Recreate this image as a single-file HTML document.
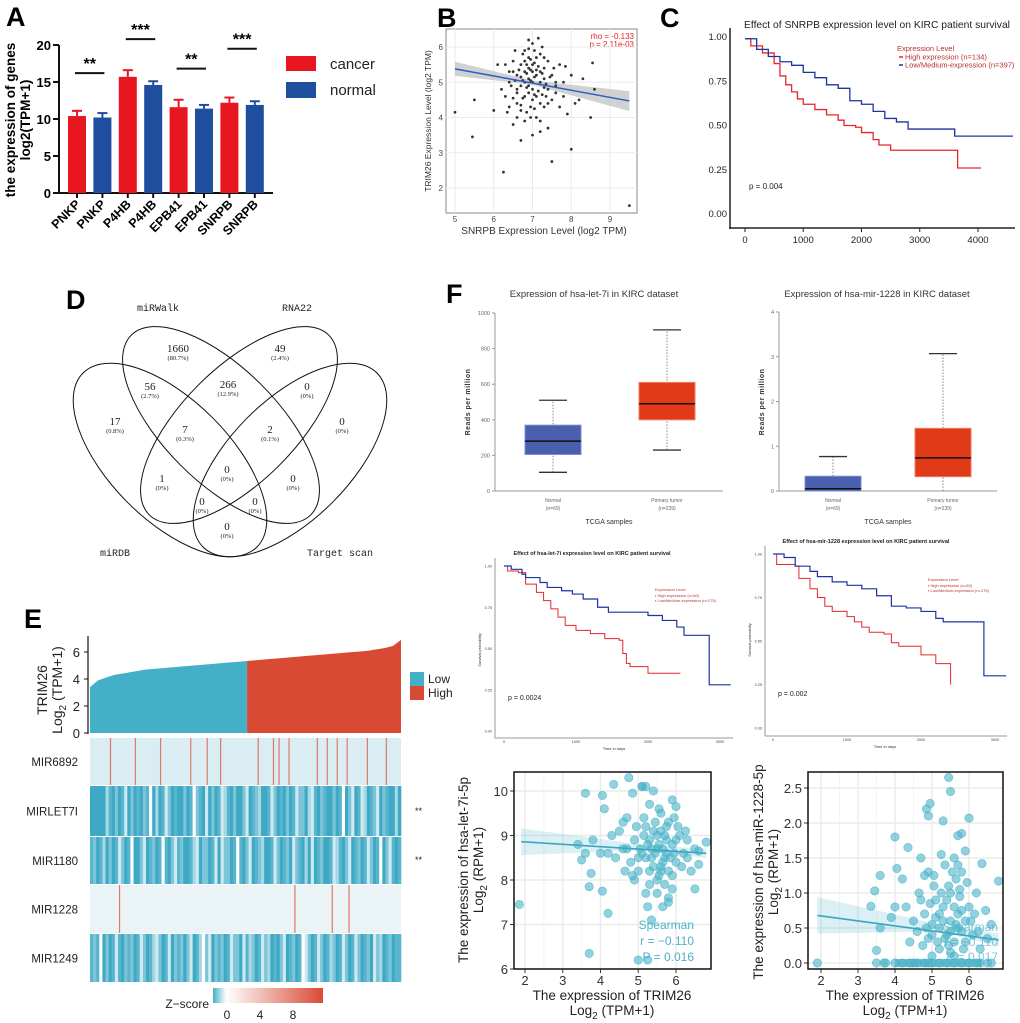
<!DOCTYPE html>
<html><head><meta charset="utf-8">
<style>
html,body{margin:0;padding:0;background:#fff;}
svg{display:block;font-family:"Liberation Sans",sans-serif;}
.pl{font-weight:bold;font-size:27px;}
.serif{font-family:"Liberation Mono","DejaVu Sans Mono",monospace;}
</style></head>
<body>
<svg id="fig" width="1020" height="1023" viewBox="0 0 1020 1023" xmlns="http://www.w3.org/2000/svg">
<rect x="0" y="0" width="1020" height="1023" fill="#fff"/>
<text class="pl" x="6" y="26">A</text>
<text class="pl" x="437" y="27">B</text>
<text class="pl" x="660" y="27">C</text>
<text class="pl" x="66" y="309">D</text>
<text class="pl" x="24" y="628">E</text>
<text class="pl" x="446" y="303">F</text>

<g id="pa">
<text transform="translate(15,120) rotate(-90)" text-anchor="middle" font-size="13.5" font-weight="bold">the expression of genes</text>
<text transform="translate(30,120) rotate(-90)" text-anchor="middle" font-size="13.5" font-weight="bold">log2(TPM+1)</text>
<rect x="286" y="56" width="30" height="15" fill="#e8161e"/>
<rect x="286" y="82" width="30" height="16" fill="#1f4e9f"/>
<text x="330" y="69" font-size="15" fill="#222">cancer</text>
<text x="330" y="95" font-size="15" fill="#222">normal</text>
</g>

<g id="pb">
<rect x="446" y="29" width="191" height="184" fill="#fff" stroke="#888" stroke-width="1"/>
<text transform="translate(431,121) rotate(-90)" text-anchor="middle" font-size="8.5" fill="#333">TRIM26 Expression Level (log2 TPM)</text>
<text x="544" y="234" text-anchor="middle" font-size="10" fill="#333">SNRPB Expression Level (log2 TPM)</text>
<text x="634" y="39" text-anchor="end" font-size="8" fill="#e52020">rho = -0.133</text>
<text x="634" y="47" text-anchor="end" font-size="8" fill="#e52020">p = 2.11e-03</text>
</g>

<g id="pc">
<text x="877" y="28" text-anchor="middle" font-size="10.3" fill="#222">Effect of SNRPB expression level on KIRC patient survival</text>
<line x1="730" y1="28" x2="730" y2="229" stroke="#222" stroke-width="1.5"/>
<line x1="729" y1="228" x2="1015" y2="228" stroke="#222" stroke-width="1.5"/>
<text x="897" y="51" font-size="7.5" fill="#b83030">Expression Level</text>
<line x1="899" y1="57" x2="903" y2="57" stroke="#e8262a" stroke-width="1.5"/>
<text x="905" y="59.5" font-size="7.5" fill="#b83030">High expression (n=134)</text>
<line x1="899" y1="65" x2="903" y2="65" stroke="#1c34a0" stroke-width="1.5"/>
<text x="905" y="67.5" font-size="7.5" fill="#b83030">Low/Medium-expression (n=397)</text>
<text x="749" y="189" font-size="8" fill="#222">p = 0.004</text>
</g>

<g id="pd" fill="none" stroke="#111" stroke-width="1">
<ellipse cx="170" cy="460" rx="123" ry="60" transform="rotate(45 170 460)"/>
<ellipse cx="290" cy="460" rx="123" ry="60" transform="rotate(-45 290 460)"/>
<ellipse cx="221" cy="425" rx="127" ry="57" transform="rotate(45 221 425)"/>
<ellipse cx="239" cy="425" rx="127" ry="57" transform="rotate(-45 239 425)"/>
</g>
<g class="serif" font-size="10" fill="#222" text-anchor="middle">
<text x="158" y="311">miRWalk</text>
<text x="297" y="311">RNA22</text>
<text x="115" y="556">miRDB</text>
<text x="340" y="556">Target scan</text>
</g>
<g id="vennnums" font-family="Liberation Serif,serif" fill="#222" text-anchor="middle"></g>

<g id="pe">
<text transform="translate(47,690) rotate(-90)" text-anchor="middle" font-size="14" fill="#222">TRIM26</text>
<text transform="translate(62,690) rotate(-90)" text-anchor="middle" font-size="14" fill="#222">Log<tspan font-size="10" dy="4">2</tspan><tspan dy="-4"> (TPM+1)</tspan></text>
<line x1="88" y1="636" x2="88" y2="734" stroke="#111" stroke-width="1.2"/>
<rect x="410" y="672" width="14" height="14" fill="#44b0c8"/>
<rect x="410" y="686" width="14" height="14" fill="#d94a35"/>
<text x="428" y="683" font-size="12" fill="#222">Low</text>
<text x="428" y="697" font-size="12" fill="#222">High</text>
<text x="415" y="814" font-size="9" fill="#222">**</text>
<text x="415" y="863" font-size="9" fill="#222">**</text>
<defs><linearGradient id="zg" x1="0" x2="1" y1="0" y2="0"><stop offset="0" stop-color="#44b0c8"/><stop offset="0.12" stop-color="#ffffff"/><stop offset="1" stop-color="#d94a35"/></linearGradient></defs>
<rect x="213" y="988" width="110" height="15" fill="url(#zg)"/>
<text x="209" y="1008" text-anchor="end" font-size="12" fill="#222">Z−score</text>
<text x="227" y="1019" text-anchor="middle" font-size="12" fill="#222">0</text>
<text x="260" y="1019" text-anchor="middle" font-size="12" fill="#222">4</text>
<text x="293" y="1019" text-anchor="middle" font-size="12" fill="#222">8</text>
</g>

<g fill="#333">
<text x="594" y="297" text-anchor="middle" font-size="9.5">Expression of hsa-let-7i in KIRC dataset</text>
<text x="877" y="297" text-anchor="middle" font-size="9.5">Expression of hsa-mir-1228 in KIRC dataset</text>
<text transform="translate(470,402) rotate(-90)" text-anchor="middle" font-size="7" font-weight="bold" letter-spacing="0.5">Reads per million</text>
<text transform="translate(764,402) rotate(-90)" text-anchor="middle" font-size="7" font-weight="bold" letter-spacing="0.5">Reads per million</text>
<text x="609" y="524" text-anchor="middle" font-size="7">TCGA samples</text>
<text x="888" y="524" text-anchor="middle" font-size="7">TCGA samples</text>
<text x="592" y="555" text-anchor="middle" font-size="5.5" font-weight="bold" fill="#222">Effect of hsa-let-7i expression level on KIRC patient survival</text>
<text x="866" y="543" text-anchor="middle" font-size="5.5" font-weight="bold" fill="#222">Effect of hsa-mir-1228 expression level on KIRC patient survival</text>
<text x="508" y="700" font-size="7" fill="#222">p = 0.0024</text>
<text x="778" y="696" font-size="7" fill="#222">p = 0.002</text>
<text x="655" y="591" font-size="4" fill="#b83030">Expression Level</text>
<text x="655" y="597" font-size="4" fill="#b83030">▪ High expression (n=60)</text>
<text x="655" y="602" font-size="4" fill="#b83030">▪ Low/Medium-expression (n=175)</text>
<text x="928" y="581" font-size="4" fill="#b83030">Expression Level</text>
<text x="928" y="587" font-size="4" fill="#b83030">▪ High expression (n=60)</text>
<text x="928" y="592" font-size="4" fill="#b83030">▪ Low/Medium-expression (n=175)</text>
<text transform="translate(481,650) rotate(-90)" text-anchor="middle" font-size="4">Survival probability</text>
<text transform="translate(751,640) rotate(-90)" text-anchor="middle" font-size="4">Survival probability</text>
<text x="614" y="750" text-anchor="middle" font-size="4">Time in days</text>
<text x="885" y="748" text-anchor="middle" font-size="4">Time in days</text>
</g>

<g fill="#222">
<text transform="translate(468,870) rotate(-90)" text-anchor="middle" font-size="13.5">The expression of hsa-let-7i-5p</text>
<text transform="translate(483,870) rotate(-90)" text-anchor="middle" font-size="13.5">Log<tspan font-size="10" dy="4">2</tspan><tspan dy="-4"> (RPM+1)</tspan></text>
<text x="612" y="1000" text-anchor="middle" font-size="13.5">The expression of TRIM26</text>
<text x="612" y="1015" text-anchor="middle" font-size="13.5">Log<tspan font-size="10" dy="4">2</tspan><tspan dy="-4"> (TPM+1)</tspan></text>
<text transform="translate(763,872) rotate(-90)" text-anchor="middle" font-size="13.5">The expression of hsa-miR-1228-5p</text>
<text transform="translate(778,872) rotate(-90)" text-anchor="middle" font-size="13.5">Log<tspan font-size="10" dy="4">2</tspan><tspan dy="-4"> (RPM+1)</tspan></text>
<text x="905" y="1000" text-anchor="middle" font-size="13.5">The expression of TRIM26</text>
<text x="905" y="1015" text-anchor="middle" font-size="13.5">Log<tspan font-size="10" dy="4">2</tspan><tspan dy="-4"> (TPM+1)</tspan></text>
</g>
<g id="layer"></g>
<g fill="#4ab3c8" font-size="12" text-anchor="end">
<text x="694" y="929">Spearman</text>
<text x="694" y="945">r = −0.110</text>
<text x="694" y="961">P = 0.016</text>
</g>
<g fill="#4ab3c8" font-size="12" text-anchor="end" opacity="0.7">
<text x="998" y="931">Spearman</text>
<text x="998" y="946">r = −0.110</text>
<text x="998" y="961">P = 0.017</text>
</g>
</svg>

<script>
// ---------- DATA ----------
const aCats = ["PNKP","PNKP","P4HB","P4HB","EPB41","EPB41","SNRPB","SNRPB"];
const aValues = [10.4,10.2,15.7,14.6,11.6,11.4,12.2,11.9];
const aErrors = [0.7,0.6,0.9,0.5,1.0,0.5,0.7,0.5];
const aSig = ["**","***","**","***"];
const aSigY = [16.2,20.8,16.8,19.5];
const aTicks = [0,5,10,15,20];

const bX = [6.8,7.0,6.9,7.2,6.7,7.1,6.6,7.3,6.9,7.0,6.5,7.4,6.8,7.2,6.6,7.5,6.4,7.6,7.0,6.9,7.3,6.7,6.3,7.7,7.1,6.5,7.8,6.2,8.0,6.6,7.4,6.4,7.0,8.1,6.1,7.9,6.8,7.2,7.5,6.3,8.2,6.0,5.5,5.0,5.45,6.25,6.7,7.5,8.0,9.5,8.5,8.6,8.55,8.3,7.85,7.6,6.9,7.0,6.8,7.1,6.7,7.2,6.9,7.0,7.3,6.6,7.4,6.5,6.9,7.1,6.8,7.2,6.75,7.05,6.95,7.35,6.45,7.55,7.25,6.55,
6.85,6.95,7.05,7.15,6.75,7.25,6.65,7.35,6.85,7.05,6.95,7.15,6.55,7.45,6.75,7.25,6.9,7.1,6.8,7.0,6.6,7.4,6.7,7.3,6.85,7.2,6.4,7.6,6.95,7.05,6.5,7.7,6.35,7.8,7.15,6.95,7.05,6.7,7.3,6.85];
const bY = [5.3,5.5,5.1,5.0,4.9,5.7,5.2,5.4,4.7,4.5,5.6,4.8,5.9,5.8,4.4,5.2,5.0,4.9,6.1,6.2,4.3,4.2,5.5,5.5,4.0,3.8,4.6,4.8,5.2,4.0,3.7,4.3,3.5,4.4,5.5,4.1,3.9,3.6,4.5,4.6,4.5,4.2,4.5,4.15,3.45,2.45,3.35,2.75,3.1,1.5,4.0,4.8,5.55,5.1,5.45,5.0,5.4,5.0,5.0,5.2,5.5,5.3,4.9,4.8,5.1,4.7,5.6,5.3,5.7,4.6,4.6,4.4,5.8,5.9,4.3,4.6,4.9,5.4,6.0,5.9,
5.25,5.35,5.15,5.45,5.05,5.25,5.35,4.95,4.85,5.55,5.65,4.75,5.05,5.15,4.55,4.65,5.95,5.35,5.6,5.3,4.8,4.4,4.35,5.7,4.15,3.9,5.3,4.7,4.0,4.25,4.55,4.3,4.15,5.0,6.25,5.05,4.65,5.15,4.85,5.5];
const bFit = [[5,5.38],[9.5,4.47]];
const bXTicks = [5,6,7,8,9];
const bYTicks = [2,3,4,5,6];

const cTime = {
  high:[0,100,300,500,600,700,800,900,1000,1200,1400,1600,1700,1900,2000,2200,2300,2500,3650,4050],
  low:[0,200,400,600,800,1000,1200,1400,1600,1800,2000,2200,2400,2600,2800,3600,4600]
};
const cSurvHigh = [0.99,0.95,0.91,0.85,0.78,0.73,0.69,0.65,0.62,0.59,0.56,0.53,0.50,0.49,0.46,0.42,0.39,0.36,0.26,0.26];
const cSurvLow = [0.99,0.93,0.89,0.86,0.84,0.80,0.77,0.73,0.71,0.64,0.62,0.58,0.54,0.52,0.48,0.44,0.44];
const cXTicks = [0,1000,2000,3000,4000];
const cYTicks = [0,0.25,0.5,0.75,1.0];

const vennCounts = ["1660","49","56","266","0","17","7","2","0","1","0","0","0","0","0"];
const vennPct = ["(80.7%)","(2.4%)","(2.7%)","(12.9%)","(0%)","(0.8%)","(0.3%)","(0.1%)","(0%)","(0%)","(0%)","(0%)","(0%)","(0%)","(0%)"];

const eCurve = [3.4,3.9,4.1,4.3,4.4,4.5,4.6,4.7,4.75,4.8,4.85,4.9,4.95,5.0,5.05,5.1,5.15,5.2,5.25,5.3,5.35,5.4,5.45,5.5,5.55,5.6,5.65,5.7,5.75,5.8,5.85,5.9,5.95,6.0,6.05,6.1,6.2,6.3,6.45,6.9];
const eSplit = 0.505;
const eYTicks = [0,2,4,6];
const eRows = ["MIR6892","MIRLET7I","MIR1180","MIR1228","MIR1249"];
const eMIR6892Red = [0.064,0.144,0.225,0.322,0.375,0.418,0.539,0.588,0.606,0.638,0.729,0.761,0.793,0.825,0.890,0.951];
const eMIR1228Red = [0.093,0.657,0.777,0.831];
const eLET7I = "5555524535415354534052541354553540345153541245355315432554135453541335214534553540531541254315345525";
const eMIR1180 = "4354253541354055315435404531435542153354151335404531543255413543513452515435541245315435413540531454";
const eMIR1249 = "4340535414534354135421354153435315420315343541335142354132545315435401354135423541354135435132543544";

const box1Stats = [[105,205,280,370,510],[230,400,490,610,905]];
const box1Ticks = [0,200,400,600,800,1000];
const box2Stats = [[0,0,0.05,0.33,0.77],[0,0.32,0.74,1.4,3.07]];
const box2Ticks = [0,1,2,3,4];
const boxCats = ["Normal","Primary tumor"];
const boxN = ["(n=69)","(n=239)"];

const km1TimeLow = [0,100,250,300,500,600,800,950,1100,1300,1450,2000,2200,2400,2500,2850,3150];
const km1SurvLow = [1,0.98,0.95,0.93,0.90,0.87,0.85,0.83,0.80,0.75,0.72,0.70,0.67,0.63,0.58,0.28,0.28];
const km1TimeHigh = [0,50,200,300,450,550,650,750,850,1000,1200,1400,1600,1650,1700,1750,2000,2450];
const km1SurvHigh = [1,0.97,0.96,0.89,0.84,0.79,0.74,0.69,0.64,0.61,0.59,0.56,0.55,0.47,0.41,0.39,0.35,0.35];
const km2TimeLow = [0,150,300,500,600,800,1000,1200,1400,1600,1800,2000,2200,2300,2850,3150];
const km2SurvLow = [1,0.98,0.93,0.90,0.87,0.84,0.82,0.80,0.76,0.70,0.69,0.67,0.63,0.61,0.30,0.30];
const km2TimeHigh = [0,50,300,350,500,600,700,800,1000,1100,1200,1300,1500,1600,1700,2000,2200,2400];
const km2SurvHigh = [1,0.94,0.93,0.86,0.80,0.75,0.70,0.67,0.64,0.61,0.58,0.55,0.54,0.49,0.47,0.42,0.37,0.25];
const kmXTicks = [0,1000,2000,3000];
const kmYTicks = [0,0.25,0.5,0.75,1.0];

const s1X = [5.5,5.3,5.7,5.6,5.1,5.9,5.4,5.8,5.2,6.0,4.9,5.5,5.6,6.1,4.8,5.3,5.0,6.2,5.7,4.7,5.9,6.3,4.6,5.4,5.1,4.5,6.4,5.8,4.4,6.5,5.2,4.3,5.35,5.25,4.2,6.6,4.0,3.8,3.6,3.5,3.4,3.75,3.7,4.05,4.2,3.7,1.85,5.0,5.25,4.1,3.6,4.05,4.35,4.75,4.85,5.1,5.2,5.9,6.0,6.6,6.8,6.5,5.9,5.0,5.6,5.45,5.75,5.15,5.65,5.35,4.9,6.05,4.65,5.55,5.95,5.3,
5.45,5.55,5.65,5.35,5.75,5.25,5.85,5.5,5.6,5.4,5.7,5.2,5.8,6.0,5.05,5.95,5.15,6.15,4.95,5.5,5.65,5.8,4.85,6.25,4.7,6.3,4.6,5.3,5.75,5.55];
const s1Y = [8.7,8.9,8.5,9.1,8.6,8.8,8.3,9.3,9.2,8.4,8.9,8.0,9.5,9.0,8.4,9.7,8.2,8.6,7.9,9.4,7.8,8.9,8.7,10.0,10.1,9.1,8.2,7.6,8.5,8.7,7.7,9.0,7.1,7.4,8.6,8.65,8.6,8.9,8.6,8.45,8.8,8.15,7.85,7.75,7.25,6.35,7.45,6.2,6.2,9.6,9.95,9.9,10.15,10.3,9.95,10.1,10.1,9.8,9.65,8.35,8.85,7.8,8.1,8.5,8.2,9.3,8.9,9.0,8.7,8.5,8.0,9.2,8.2,9.6,8.6,7.9,
8.6,8.8,8.4,8.7,8.6,8.8,8.5,9.0,8.3,9.1,9.0,8.5,8.2,8.9,8.7,9.4,9.4,8.3,9.2,7.7,7.4,7.5,8.1,9.1,8.7,8.5,9.3,8.2,9.2,8.1];
const s1Fit = [[1.9,8.86],[6.8,8.6]];
const s1XTicks = [2,3,4,5,6];
const s1YTicks = [6,7,8,9,10];

const s2X = [5.2,5.5,5.4,5.7,5.0,5.8,5.3,5.6,5.1,5.9,4.9,5.5,5.65,5.35,5.8,4.8,6.0,5.2,4.7,6.1,5.45,5.75,5.05,4.6,6.2,4.5,4.3,4.2,4.0,4.05,4.35,4.0,3.6,3.45,3.35,3.5,3.6,3.9,1.9,4.9,4.85,4.95,5.3,6.0,5.5,5.45,5.8,5.7,5.9,6.35,6.8,6.45,6.6,6.5,4.7,4.9,5.25,5.6,5.0,5.5,4.4,6.3,3.5,3.7,3.75,4.0,4.2,4.4,4.6,4.8,5.0,5.2,5.4,5.6,5.8,6.0,6.2,6.5,6.6,6.3,4.5,4.9,
5.3,5.5,5.6,5.4,5.7,5.2,5.8,5.0,5.9,5.1,5.45,5.65,5.35,5.75,5.25,5.55,4.95,6.05,4.85,6.15,5.15,5.85,5.6,4.75,6.25,5.95,5.05,4.65,4.8,5.7];
const s2Y = [0.5,0.6,0.4,0.7,0.55,0.45,0.8,0.3,0.9,0.6,0.35,1.0,1.2,1.4,1.3,0.7,0.8,0.2,0.9,0.4,1.1,0.95,1.25,0.45,1.0,0.6,0.8,1.2,0.8,1.35,1.65,1.8,1.25,1.03,0.81,0.18,0.5,0.65,0,2.1,2.2,2.28,2.03,2.07,2.45,2.65,1.85,1.82,1.6,1.42,1.17,0.75,0.55,0.35,1.5,1.3,1.55,1.5,0.1,0.15,0.3,0.2,0,0,0,0,0,0,0,0,0,0,0,0,0,0,0,0,0,0,0,0,
0.6,0.45,0.8,0.9,0.5,0.7,0.75,0.4,0.3,0.65,0.25,0.55,0.35,1.05,1.0,1.3,0.85,0.6,0.5,0.7,0.3,0.2,0.1,0.25,0.45,1.15,1.1,1.0,1.25,1.4];
const s2Fit = [[1.9,0.68],[6.8,0.33]];
const s2XTicks = [2,3,4,5,6];
const s2YTicks = [0,0.5,1.0,1.5,2.0,2.5];

// ---------- HELPERS ----------
const NS = "http://www.w3.org/2000/svg";
const L = document.getElementById('layer');
function mk(tag, a, p){ const e=document.createElementNS(NS,tag); for(const k in a) e.setAttribute(k,a[k]); (p||L).appendChild(e); return e; }
function lin(d0,d1,r0,r1){ return v => r0 + (v-d0)*(r1-r0)/(d1-d0); }
function txt(x,y,s,attrs,name){ const t=mk('text',Object.assign({x:x,y:y},attrs)); t.textContent=s;
  
  
  return t; }
function ln(x1,y1,x2,y2,attrs,name){ const l=mk('line',Object.assign({x1:x1,y1:y1,x2:x2,y2:y2},attrs));
  
  
  return l; }
function stepPath(ts,ss,X,Y){ let d='M'+X(ts[0])+' '+Y(ss[0]); for(let i=1;i<ts.length;i++){ d+=' H'+X(ts[i])+' V'+Y(ss[i]); } return d; }

// ---------- PANEL A ----------
(function(){
  const Y = lin(0,20,193,45);
  const X0 = 77, step = 25.4, bw = 18;
  ln(59,45,59,194,{stroke:'#111','stroke-width':2},'a-y-axis');
  ln(58,193,273,193,{stroke:'#111','stroke-width':2},'a-x-axis');
  aTicks.forEach(t=>{ ln(53,Y(t),59,Y(t),{stroke:'#111','stroke-width':2},'a-y-tick');
    txt(51,Y(t)+5,String(t),{'text-anchor':'end','font-size':13,'font-weight':'bold'},'a-y-tick-label'); });
  aValues.forEach((v,i)=>{
    const cx = X0 + i*step, col = i%2===0 ? '#e8161e' : '#1f4e9f';
    const r = mk('rect',{x:cx-bw/2,y:Y(v),width:bw,height:Y(0)-Y(v),fill:col});
    
    
    ln(cx,Y(v),cx,Y(v+aErrors[i]),{stroke:col,'stroke-width':2},'error-bar');
    ln(cx-5,Y(v+aErrors[i]),cx+5,Y(v+aErrors[i]),{stroke:col,'stroke-width':2},'error-cap');
    ln(cx,193,cx,198,{stroke:'#111','stroke-width':2},'a-x-tick');
    txt(cx+4,205,aCats[i],{'text-anchor':'end','font-size':12.5,'font-weight':'bold',transform:'rotate(-45 '+(cx+4)+' 205)'},'a-x-tick-label');
  });
  aSig.forEach((s,j)=>{
    const x1 = X0 + 2*j*step - 2, x2 = X0 + (2*j+1)*step + 2, y = Y(aSigY[j]);
    ln(x1,y,x2,y,{stroke:'#111','stroke-width':2},'significance-line');
    txt((x1+x2)/2,y-4,s,{'text-anchor':'middle','font-size':16,'font-weight':'bold'},'significance-stars');
  });
})();

// ---------- PANEL B ----------
(function(){
  const X = lin(5,9,455,610), Y = lin(2,6,188,47);
  bXTicks.forEach(t=>{ ln(X(t),29,X(t),213,{stroke:'#ebebeb','stroke-width':1},'b-grid-x');
    txt(X(t),222,String(t),{'text-anchor':'middle','font-size':8,fill:'#444'},'b-x-tick-label'); });
  bYTicks.forEach(t=>{ ln(446,Y(t),637,Y(t),{stroke:'#ebebeb','stroke-width':1},'b-grid-y');
    txt(443,Y(t)+3,String(t),{'text-anchor':'end','font-size':8,fill:'#444'},'b-y-tick-label'); });
  const band = mk('path',{d:'M'+X(5)+' '+Y(5.58)+' L'+X(7)+' '+Y(5.05)+' L'+X(9.5)+' '+Y(4.75)+' L'+X(9.5)+' '+Y(4.18)+' L'+X(7)+' '+Y(4.93)+' L'+X(5)+' '+Y(5.18)+'Z',fill:'#bdbdbd',opacity:0.7});
  
  
  bX.forEach((x,i)=>{ const c=mk('circle',{cx:X(x),cy:Y(bY[i]),r:1.4,fill:'#333'});
    
     });
  ln(X(bFit[0][0]),Y(bFit[0][1]),X(bFit[1][0]),Y(bFit[1][1]),{stroke:'#2a5cc4','stroke-width':1.5},'b-regression-line');
})();

// ---------- PANEL C ----------
(function(){
  const X = lin(0,4000,745,978), Y = lin(0,1,214,37);
  cXTicks.forEach(t=>{ ln(X(t),228,X(t),232,{stroke:'#222'},'c-x-tick');
    txt(X(t),243,String(t),{'text-anchor':'middle','font-size':9.5,fill:'#222'},'c-x-tick-label'); });
  cYTicks.forEach(t=>{ txt(727,Y(t)+3,t.toFixed(2),{'text-anchor':'end','font-size':9.5,fill:'#222'},'c-y-tick-label'); });
  const ph = mk('path',{d:stepPath(cTime.high,cSurvHigh,X,Y),fill:'none',stroke:'#e8262a','stroke-width':1.3});
  
  
  const pl = mk('path',{d:stepPath(cTime.low,cSurvLow,X,Y),fill:'none',stroke:'#1c34a0','stroke-width':1.3});
  
  
})();

// ---------- PANEL D numbers ----------
(function(){
  const g = document.getElementById('vennnums');
  const pos = [[178,352],[280,352],[150,390],[228,388],[307,390],[115,425],[185,433],[270,433],[342,425],[162,482],[227,473],[293,482],[202,505],[255,505],[227,530]];
  vennCounts.forEach((c,i)=>{
    const t = mk('text',{x:pos[i][0],y:pos[i][1],'font-size':11},g); t.textContent=c;
    
    
    const p = mk('text',{x:pos[i][0],y:pos[i][1]+8,'font-size':6.5},g); p.textContent=vennPct[i];
    
    
  });
})();

// ---------- PANEL E ----------
(function(){
  const x0=90, x1=401, Y = lin(0,6,733,652);
  const n = eCurve.length;
  const X = i => x0 + (x1-x0)*i/(n-1);
  const splitX = x0 + (x1-x0)*eSplit;
  function val(xp){ const f=(xp-x0)/(x1-x0)*(n-1); const i=Math.min(n-2,Math.floor(f)); return eCurve[i]+(eCurve[i+1]-eCurve[i])*(f-i); }
  let dl='M'+x0+' '+Y(0), dh='M'+splitX+' '+Y(0)+' L'+splitX+' '+Y(val(splitX));
  for(let i=0;i<n;i++){ const xp=X(i); if(xp<=splitX) dl+=' L'+xp+' '+Y(eCurve[i]); else dh+=' L'+xp+' '+Y(eCurve[i]); }
  dl+=' L'+splitX+' '+Y(val(splitX))+' L'+splitX+' '+Y(0)+'Z';
  dh+=' L'+x1+' '+Y(0)+'Z';
  const a1=mk('path',{d:dl,fill:'#44b0c8'});
  
  
  const a2=mk('path',{d:dh,fill:'#d94a35'});
  
  
  eYTicks.forEach(t=>{ ln(84,Y(t),88,Y(t),{stroke:'#111'},'e-y-tick');
    txt(80,Y(t)+5,String(t),{'text-anchor':'end','font-size':13,fill:'#222'},'e-y-tick-label'); });
  const rowY = [738,786,837,885,934,983];
  const cols = ['#ffffff','#cfe9f0','#a6d7e4','#7cc4d8','#58b5cd','#3ea9c5'];
  eRows.forEach((name,r)=>{
    txt(78,(rowY[r]+rowY[r+1])/2+4,name,{'text-anchor':'end','font-size':11.5,fill:'#222'},'e-row-label');
    const base = mk('rect',{x:x0,y:rowY[r],width:x1-x0,height:rowY[r+1]-rowY[r]-1,fill: r===0?'#d9edf3':(r===3?'#eaf4f7':'#ffffff')});
    
    
  });
  function stripes(str,r){
    const w=(x1-x0)/str.length;
    for(let i=0;i<str.length;i++){ const c=mk('rect',{x:x0+i*w,y:rowY[r],width:w+0.3,height:rowY[r+1]-rowY[r]-1,fill:cols[+str[i]]});
      
       }
  }
  stripes(eLET7I,1); stripes(eMIR1180,2); stripes(eMIR1249,4);
  function reds(arr,r){ arr.forEach(f=>{ const c=mk('rect',{x:x0+(x1-x0)*f,y:rowY[r],width:1.2,height:rowY[r+1]-rowY[r]-1,fill:'#e07a68'});
    
     }); }
  reds(eMIR6892Red,0); reds(eMIR1228Red,3);
})();

// ---------- PANEL F boxplots ----------
function boxplot(stats,ticks,yAxisX,xEnd,centers,Y,fmt,pfx){
  ln(yAxisX,Y(ticks[ticks.length-1]),yAxisX,Y(0),{stroke:'#999'},pfx+'-y-axis');
  ln(yAxisX,Y(0),xEnd,Y(0),{stroke:'#999'},pfx+'-x-axis');
  ticks.forEach(t=>{ ln(yAxisX-3,Y(t),yAxisX,Y(t),{stroke:'#999'},pfx+'-y-tick');
    txt(yAxisX-5,Y(t)+2,fmt(t),{'text-anchor':'end','font-size':5.5,fill:'#666'},pfx+'-y-tick-label'); });
  stats.forEach((s,i)=>{
    const cx=centers[i], w=56, col = i===0?'#4a5fae':'#e03a18', sc = i===0?'#7c8ed8':'#f07a60';
    ln(cx,Y(s[0]),cx,Y(s[4]),{stroke:'#888','stroke-dasharray':'1.5,1.5'},pfx+'-whisker');
    ln(cx-14,Y(s[4]),cx+14,Y(s[4]),{stroke:'#333','stroke-width':1.3},pfx+'-whisker-cap-top');
    if(s[0]>0) ln(cx-14,Y(s[0]),cx+14,Y(s[0]),{stroke:'#333','stroke-width':1.3},pfx+'-whisker-cap-bottom');
    const b=mk('rect',{x:cx-w/2,y:Y(s[3]),width:w,height:Y(s[1])-Y(s[3]),fill:col,stroke:sc});
    
    
    ln(cx-w/2,Y(s[2]),cx+w/2,Y(s[2]),{stroke:'#111','stroke-width':1.5},pfx+'-median');
    txt(cx,Y(0)+11,boxCats[i],{'text-anchor':'middle','font-size':5,fill:'#666'},pfx+'-x-tick-label');
    txt(cx,Y(0)+19,boxN[i],{'text-anchor':'middle','font-size':5,fill:'#666'},pfx+'-x-n-label');
  });
}
boxplot(box1Stats,box1Ticks,495,723,[553,667],lin(0,1000,491,313),t=>String(t),'f-box1');
boxplot(box2Stats,box2Ticks,779,997,[833,943],lin(0,4,491,312),t=>String(t),'f-box2');

// ---------- PANEL F KM ----------
function km(ax,pfx){
  const X=lin(0,1000,ax.x0,ax.x1k), Y=lin(0,1,ax.y0,ax.y1);
  ln(ax.yx,ax.y1-8,ax.yx,ax.xy,{stroke:'#999'},pfx+'-y-axis');
  ln(ax.yx,ax.xy,ax.xe,ax.xy,{stroke:'#999'},pfx+'-x-axis');
  kmXTicks.forEach(t=>txt(X(t),ax.xy+5,String(t),{'text-anchor':'middle','font-size':3.8,fill:'#444'},pfx+'-x-tick-label'));
  kmYTicks.forEach(t=>txt(ax.yx-3,Y(t)+1.5,t.toFixed(2),{'text-anchor':'end','font-size':3.8,fill:'#444'},pfx+'-y-tick-label'));
  const h=mk('path',{d:stepPath(ax.th,ax.sh,X,Y),fill:'none',stroke:'#e8262a','stroke-width':1});
  
  
  const l=mk('path',{d:stepPath(ax.tl,ax.sl,X,Y),fill:'none',stroke:'#1c34a0','stroke-width':1.2});
  
  
}
km({x0:504,x1k:576,y0:731,y1:566,yx:495,xy:738,xe:733,th:km1TimeHigh,sh:km1SurvHigh,tl:km1TimeLow,sl:km1SurvLow},'f-km1');
km({x0:773,x1k:847,y0:728,y1:554,yx:765,xy:736,xe:1007,th:km2TimeHigh,sh:km2SurvHigh,tl:km2TimeLow,sl:km2SurvLow},'f-km2');

// ---------- SCATTERS ----------
function scatter(o,pfx){
  const X=lin(o.xd[0],o.xd[1],o.xr[0],o.xr[1]), Y=lin(o.yd[0],o.yd[1],o.yr[0],o.yr[1]);
  const bg=mk('rect',{x:o.bx0,y:o.by0,width:o.bx1-o.bx0,height:o.by1-o.by0,fill:'#fff'});
  
  
  o.xt.forEach((t,i)=>{ ln(X(t),o.by0,X(t),o.by1,{stroke:'#ebebeb','stroke-width':1.5},pfx+'-grid-x');
    if(i<o.xt.length-1) ln(X(t+0.5),o.by0,X(t+0.5),o.by1,{stroke:'#f4f4f4'},pfx+'-grid-x-minor');
    ln(X(t),o.by1,X(t),o.by1+4,{stroke:'#333'},pfx+'-x-tick');
    txt(X(t),o.by1+16,String(t),{'text-anchor':'middle','font-size':13,fill:'#333'},pfx+'-x-tick-label'); });
  o.yt.forEach(t=>{ ln(o.bx0,Y(t),o.bx1,Y(t),{stroke:'#ebebeb','stroke-width':1.5},pfx+'-grid-y');
    ln(o.bx0-4,Y(t),o.bx0,Y(t),{stroke:'#333'},pfx+'-y-tick');
    txt(o.bx0-6,Y(t)+5,o.yf(t),{'text-anchor':'end','font-size':13,fill:'#333'},pfx+'-y-tick-label'); });
  const x0=o.fit[0][0], x1=o.fit[1][0];
  const band=mk('path',{d:'M'+X(x0)+' '+Y(o.fit[0][1]+o.bw)+' L'+X((x0+x1)/2+0.8)+' '+Y((o.fit[0][1]+o.fit[1][1])/2+o.bw*0.2)+' L'+X(x1)+' '+Y(o.fit[1][1]+o.bw*0.35)+' L'+X(x1)+' '+Y(o.fit[1][1]-o.bw*0.35)+' L'+X((x0+x1)/2+0.8)+' '+Y((o.fit[0][1]+o.fit[1][1])/2-o.bw*0.2)+' L'+X(x0)+' '+Y(o.fit[0][1]-o.bw)+'Z',fill:'#4ab3c8',opacity:0.2});
  
  
  o.px.forEach((x,i)=>{ const c=mk('circle',{cx:X(x),cy:Y(o.py[i]),r:4.2,fill:'#4ab3c8','fill-opacity':0.6,stroke:'#4ab3c8','stroke-opacity':0.8,'stroke-width':0.6});
    
     });
  ln(X(x0),Y(o.fit[0][1]),X(x1),Y(o.fit[1][1]),{stroke:'#3aa7c2','stroke-width':1.6},pfx+'-regression-line');
  const fr=mk('rect',{x:o.bx0,y:o.by0,width:o.bx1-o.bx0,height:o.by1-o.by0,fill:'none',stroke:'#111','stroke-width':1.5});
  
  
}
scatter({xd:[2,6],xr:[525,676],yd:[6,10],yr:[969,791],bx0:514,bx1:711,by0:772,by1:969,xt:s1XTicks,yt:s1YTicks,yf:t=>String(t),px:s1X,py:s1Y,fit:s1Fit,bw:0.3},'s1');
scatter({xd:[2,6],xr:[821,969],yd:[0,2.5],yr:[963,788],bx0:808,bx1:1003,by0:772,by1:969,xt:s2XTicks,yt:s2YTicks,yf:t=>t.toFixed(1),px:s2X,py:s2Y,fit:s2Fit,bw:0.26},'s2');
(function(){ const X=lin(2,6,821,969); const z=mk('rect',{x:X(4),y:959,width:X(6.35)-X(4),height:8,fill:'#4ab3c8',opacity:0.8});
  
   })();
</script>
</body></html>
